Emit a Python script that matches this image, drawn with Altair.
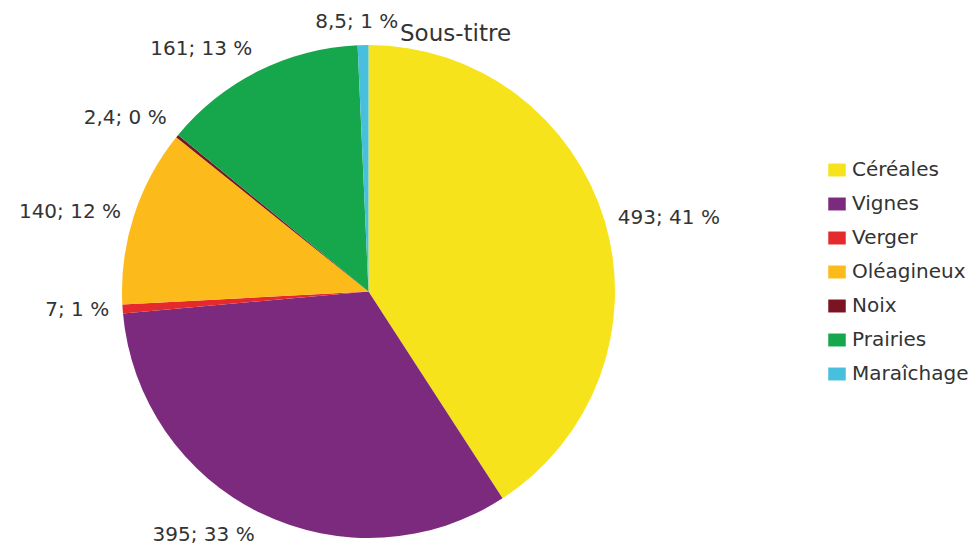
import altair as alt
import pandas as pd

categories = ["Céréales", "Vignes", "Verger", "Oléagineux", "Noix", "Prairies", "Maraîchage"]
values = [493, 395, 7, 140, 2.4, 161, 8.5]
colors = ["#F7E31B", "#7B2A7E", "#E52A2E", "#FCBA1B", "#7A1322", "#16A64C", "#48C0DD"]

total = sum(values)


def fr(v):
    return f"{v:g}".replace(".", ",")


labels = [f"{fr(v)}; {round(v / total * 100)} %" for v in values]

df = pd.DataFrame({
    "category": categories,
    "value": values,
    "label": labels,
    "idx": list(range(len(categories))),
})

FONT = "DejaVu Sans"
TXT = "#333333"

base = (
    alt.Chart(df)
    .transform_joinaggregate(total="sum(value)")
    .transform_window(cum="sum(value)", sort=[alt.SortField("idx")], frame=[None, 0])
    .transform_calculate(mid="(datum.cum - datum.value / 2) / datum.total * 360")
    .transform_calculate(
        h="datum.mid < 10 || datum.mid > 350 ? 'center' : (datum.mid < 180 ? 'left' : 'right')",
        v="cos(datum.mid * PI / 180) > 0.5 ? 'bottom' : (cos(datum.mid * PI / 180) < -0.5 ? 'top' : 'middle')",
    )
)

arc = base.mark_arc(outerRadius=246.5).encode(
    theta=alt.Theta("value:Q", stack=True),
    order=alt.Order("idx:Q"),
    color=alt.Color(
        "category:N",
        scale=alt.Scale(domain=categories, range=colors),
        legend=alt.Legend(
            title=None,
            orient="none",
            legendX=705,
            legendY=115,
            symbolType="M-1,-0.74H1V0.74H-1Z",
            symbolSize=306,
            symbolStrokeWidth=0,
            labelFontSize=20,
            labelFont=FONT,
            labelColor=TXT,
            rowPadding=14,
            labelOffset=5,
            padding=0,
        ),
    ),
)

texts = []
for h in ["left", "center", "right"]:
    for v in ["top", "middle", "bottom"]:
        texts.append(
            base.mark_text(
                radius=260, align=h, baseline=v, fontSize=20, font=FONT, color=TXT,
                dx=-6 if h == "center" else 0,
            ).encode(
                theta=alt.Theta("value:Q", stack=True),
                order=alt.Order("idx:Q"),
                text=alt.condition(
                    (alt.datum.h == h) & (alt.datum.v == v),
                    alt.Text("label:N"),
                    alt.value(""),
                ),
            )
        )

chart = (
    alt.layer(arc, *texts)
    .properties(
        width=493,
        height=493,
        autosize="none",
        padding={"left": 114, "top": 37, "right": 355, "bottom": 16},
        title=alt.TitleParams(
            "Sous-titre",
            fontSize=23,
            font=FONT,
            fontWeight="normal",
            color=TXT,
            anchor="middle",
            dx=87,
            dy=36,
            offset=2,
        ),
    )
    .configure_view(stroke=None)
)

chart.save("out.html", embed_options={"renderer": "svg", "actions": False})
